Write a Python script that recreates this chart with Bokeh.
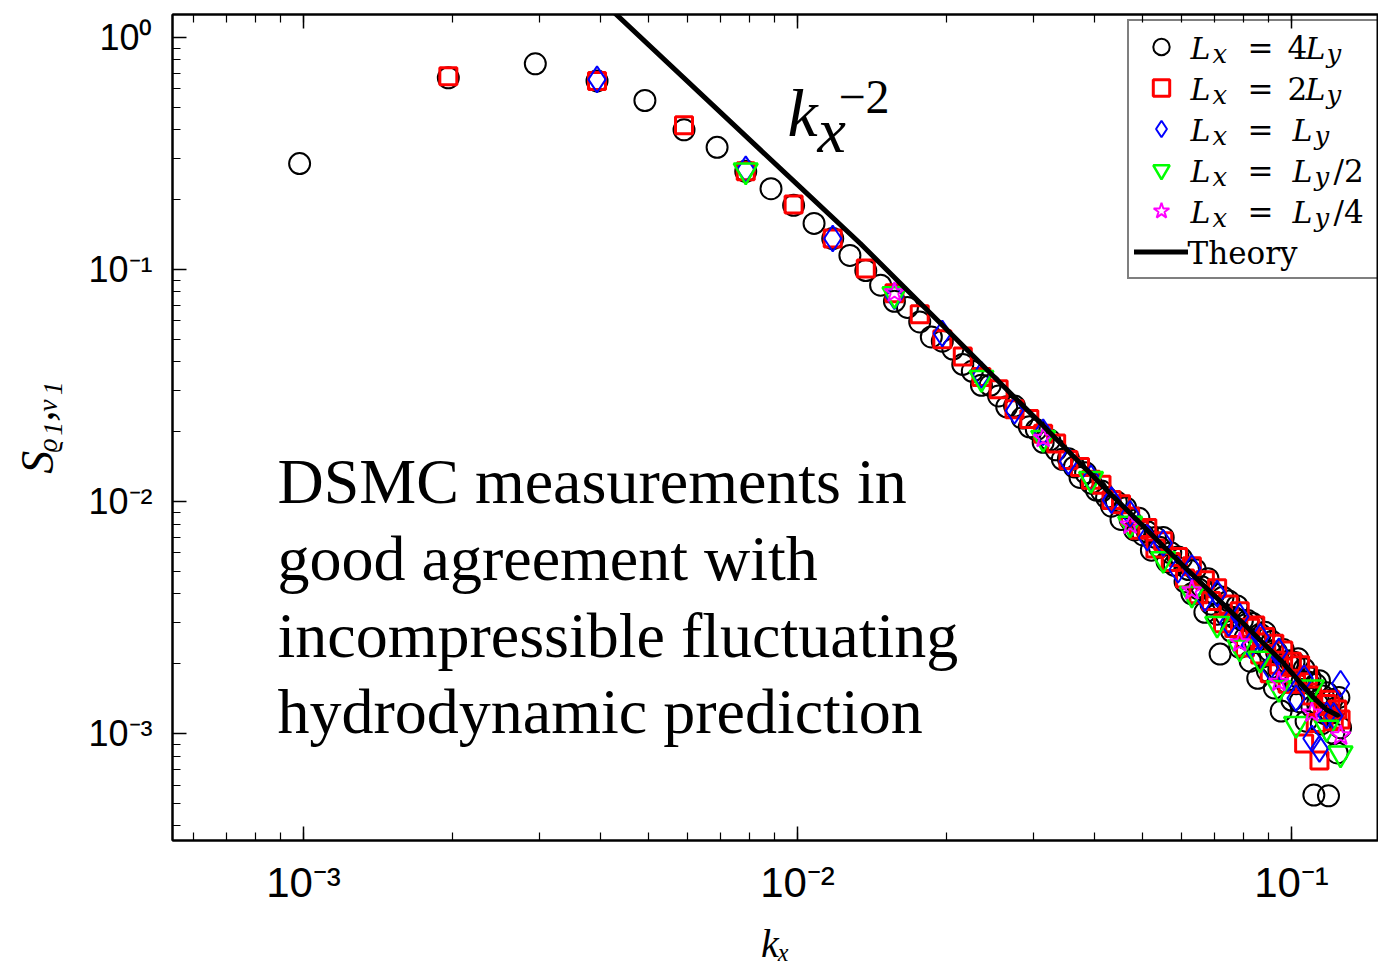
import math
from bokeh.plotting import figure
from bokeh.models import (Range1d, LogAxis, LogTicker, CustomJSTickFormatter,
                          Label, Legend, LegendItem)
from bokeh.embed import file_html
from bokeh.resources import INLINE

# ---------------- data ----------------
DK = 0.000982  # spacing of k_x for the Lx = 4Ly system

S_4LY = [0.286, 0.67, 0.77, 0.65, 0.535, 0.40, 0.336, 0.265, 0.223, 0.189,
         0.158, 0.136, 0.115, 0.099, 0.0856, 0.0729, 0.0686, 0.0594, 0.0512, 0.0491,
         0.0454, 0.0390, 0.0364, 0.0317, 0.0317, 0.0285, 0.0256, 0.0258, 0.0229, 0.0210,
         0.0204, 0.0180, 0.0184, 0.0167, 0.0152, 0.0153, 0.0141, 0.0127, 0.0133, 0.0120,
         0.0112, 0.0111, 0.0104, 0.00955, 0.00998, 0.00837, 0.00941, 0.00836, 0.00754, 0.00847,
         0.00718, 0.00740, 0.00617, 0.00700, 0.00636, 0.00700, 0.00551, 0.00601, 0.00531, 0.00577,
         0.00569, 0.00451, 0.00509, 0.00400, 0.00510, 0.00420, 0.00429, 0.00333, 0.00465, 0.00361,
         0.00401, 0.00327, 0.00220, 0.00387, 0.00325, 0.00373, 0.00276, 0.00316, 0.00355, 0.00235,
         0.00308, 0.00258, 0.00307, 0.00205, 0.00298, 0.00247, 0.00173, 0.00268, 0.00214, 0.00273,
         0.00186, 0.00227, 0.00249, 0.00157, 0.00224, 0.00188, 0.00125, 0.00230, 0.00167, 0.00202,
         0.00206, 0.00139, 0.00203, 0.00164, 0.00210, 0.00137, 0.00168, 0.00190, 0.00113, 0.00167,
         0.00174, 0.00130, 0.000543, 0.00163, 0.00134, 0.00169, 0.00110, 0.00145, 0.00122, 0.00150,
         0.000539, 0.00123, 0.00140, 0.00100, 0.00129, 0.000825, 0.00143, 0.00106]

S_2LY = [0.68, 0.65, 0.418, 0.265, 0.1906, 0.136, 0.101, 0.0790, 0.0642, 0.0501,
         0.0422, 0.0344, 0.0305, 0.0250, 0.0227, 0.0196, 0.0178, 0.0151, 0.0141, 0.0124,
         0.0118, 0.01014, 0.00973, 0.00861, 0.00755, 0.00769, 0.00627, 0.00675, 0.00549, 0.00577,
         0.00466, 0.00526, 0.00398, 0.00458, 0.00373, 0.00423, 0.00299, 0.00360, 0.00285, 0.00337,
         0.00235, 0.00286, 0.00292, 0.00219, 0.00261, 0.00182, 0.00244, 0.00198, 0.00228, 0.00164,
         0.00204, 0.00164, 0.00197, 0.000906, 0.00178, 0.00146, 0.00111, 0.000765, 0.00124, 0.00134,
         0.00140, 0.00113, 0.00127, 0.00115]

S_LY = [0.66, 0.27, 0.136, 0.0767, 0.0530, 0.0351, 0.0246, 0.0199, 0.0149, 0.0126,
        0.01014, 0.00886, 0.00698, 0.00663, 0.00508, 0.00517, 0.00383, 0.00401, 0.00300, 0.00319,
        0.00240, 0.00261, 0.00193, 0.00226, 0.00173, 0.00142, 0.00173, 0.000952, 0.000859, 0.00120,
        0.00119, 0.00164]

S_LY2 = [0.267, 0.0782, 0.0341, 0.0188, 0.0125, 0.00802, 0.00565, 0.00400, 0.00297, 0.00235,
         0.00210, 0.00157, 0.00110, 0.00158, 0.00106, 0.00082]

S_LY4 = [0.0796, 0.0188, 0.00794, 0.00414, 0.00247, 0.00167, 0.00123, 0.00098]

K_THEORY = [0.004, 0.01, 0.0134, 0.02, 0.03, 0.043, 0.0597, 0.0815, 0.0951, 0.104,
            0.1108, 0.1175, 0.1239]
S_THEORY = [1.45, 0.232, 0.1294, 0.0554, 0.0234, 0.0108, 0.00541, 0.00286, 0.00207, 0.00166,
            0.00143, 0.00127, 0.00120]

STEP_4LY, STEP_2LY, STEP_LY, STEP_LY2, STEP_LY4 = 1, 2, 4, 8, 16


def modes(step, values):
    return [DK * step * n for n in range(1, len(values) + 1)]


K_4LY = modes(STEP_4LY, S_4LY)
K_2LY = modes(STEP_2LY, S_2LY)
K_LY = modes(STEP_LY, S_LY)
K_LY2 = modes(STEP_LY2, S_LY2)
K_LY4 = modes(STEP_LY4, S_LY4)

# ---------------- figure ----------------
p = figure(width=1378, height=968, x_axis_type="log", y_axis_type="log",
           x_range=Range1d(5.43e-4, 0.150), y_range=Range1d(3.46e-4, 1.256),
           output_backend="svg", toolbar_location=None,
           min_border_left=172, min_border_right=0, min_border_top=14,
           min_border_bottom=128)
p.xgrid.visible = False
p.ygrid.visible = False
p.outline_line_color = "black"
p.outline_line_width = 2
p.background_fill_color = "white"
p.border_fill_color = "white"

fmt_code = """
const sup = {"-": "\u207b", "0": "\u2070", "1": "\u00b9", "2": "\u00b2", "3": "\u00b3",
             "4": "\u2074", "5": "\u2075", "6": "\u2076", "7": "\u2077", "8": "\u2078", "9": "\u2079"};
const e = Math.round(Math.log10(tick));
return "10" + String(e).split("").map(c => sup[c]).join("");
"""


def style_axis(ax):
    ax.ticker = LogTicker(num_minor_ticks=10, desired_num_ticks=4)
    ax.major_tick_in = 14
    ax.major_tick_out = 0
    ax.minor_tick_in = 8
    ax.minor_tick_out = 0
    ax.axis_line_width = 2
    ax.axis_line_color = "black"
    ax.major_tick_line_width = 1.5
    ax.minor_tick_line_width = 1.2
    ax.major_tick_line_color = "black"
    ax.minor_tick_line_color = "black"
    ax.major_label_text_color = "black"


xa = p.xaxis[0]
ya = p.yaxis[0]
for ax in (xa, ya):
    style_axis(ax)
    ax.formatter = CustomJSTickFormatter(code=fmt_code)
    ax.axis_label_text_font = "Liberation Serif"
    ax.axis_label_text_font_style = "italic"
    ax.axis_label_text_color = "black"
xa.major_label_text_font = "Liberation Sans Narrow, Liberation Sans"
xa.major_label_text_font_size = "42px"
xa.major_label_standoff = 18
xa.axis_label = "k\u2093"
xa.axis_label_text_font_size = "40px"
xa.axis_label_standoff = 12
ya.major_label_text_font = "Liberation Sans"
ya.major_label_text_font_size = "36px"
ya.major_label_standoff = 20
ya.axis_label = "S\u1d68\u2081,\u1d65\u2081"
ya.axis_label_text_font_size = "46px"
ya.axis_label_standoff = 22

top = LogAxis()
style_axis(top)
top.formatter = CustomJSTickFormatter(code="return '';")
top.major_label_text_font_size = "0px"
top.major_label_standoff = 0
p.add_layout(top, "above")

# ---------------- data marks ----------------
r_c = p.scatter(K_4LY, S_4LY, marker="circle", size=21, fill_color=None,
                line_color="black", line_width=2)
r_s = p.scatter(K_2LY, S_2LY, marker="square", size=17, fill_color=None,
                line_color="#ff0000", line_width=3)
r_d = p.scatter(K_LY, S_LY, marker="diamond", size=26, fill_color=None,
                line_color="#0000ff", line_width=2)
r_t = p.scatter(K_LY2, S_LY2, marker="inverted_triangle", size=24, fill_color=None,
                line_color="#00ff00", line_width=2.5)
r_st = p.scatter(K_LY4, S_LY4, marker="star", size=21, fill_color=None,
                 line_color="#ff00ff", line_width=2)
r_th = p.line(K_THEORY, S_THEORY, line_color="black", line_width=5, line_cap="round")

# ---------------- legend (markers; its texts are drawn below) ----------------
legend = Legend(items=[LegendItem(label=" ", renderers=[r]) for r in (r_c, r_s, r_d, r_t, r_st, r_th)],
                location=(955, 561), margin=0, padding=5, spacing=0,
                glyph_width=54, glyph_height=41, label_height=41, label_width=200,
                label_standoff=0, label_text_font_size="12px",
                border_line_color="black", border_line_width=2,
                background_fill_alpha=0.0)
p.add_layout(legend)

SERIF = "Liberation Serif"
LEG_FONT = "DejaVu Serif"
MID = {SERIF: 0.3375, LEG_FONT: 0.346}


def lab(text, x, base, size, style="normal", font=SERIF):
    # base = desired alphabetic baseline, measured up from the frame bottom;
    # the label is anchored on the middle of its em box.
    p.add_layout(Label(x=x, y=base + MID[font] * size, x_units="screen", y_units="screen",
                       text=text, text_font=font, text_font_size=f"{size}px",
                       text_font_style=style, text_baseline="alphabetic",
                       text_align="left", text_color="black", level="overlay"))


# legend texts (frame-relative screen coordinates)
row_base = [782, 741, 700, 659, 618]
second_L = [(1133, 1154, "4"), (1133, 1154, "2"), (1120, 1142, None), (1120, 1142, None), (1120, 1142, None)]
tails = [None, None, None, "/2", "/4"]
for i, yb in enumerate(row_base):
    lab("L", 1018, yb, 30, "italic", LEG_FONT)
    lab("x", 1040, yb - 4, 26, "italic", LEG_FONT)
    lab("=", 1075, yb, 31, font=LEG_FONT)
    lx, ly, num = second_L[i]
    if num:
        lab(num, 1115, yb, 31, font=LEG_FONT)
    lab("L", lx, yb, 30, "italic", LEG_FONT)
    lab("y", ly, yb - 4, 26, "italic", LEG_FONT)
    if tails[i]:
        lab(tails[i], 1161, yb, 31, font=LEG_FONT)
lab("Theory", 1015, 577, 31, font=LEG_FONT)

# k_x^-2 annotation
lab("k", 615, 705, 68, "italic")
lab("x", 645, 688, 64, "italic")
lab("\u22122", 666, 727, 48)

# main annotation text
for txt, yb in [("DSMC measurements in", 337), ("good agreement with", 260),
                ("incompressible fluctuating", 183), ("hydrodynamic prediction", 107)]:
    lab(txt, 105, yb, 64)

open("out.html", "w").write(file_html(p, INLINE))
